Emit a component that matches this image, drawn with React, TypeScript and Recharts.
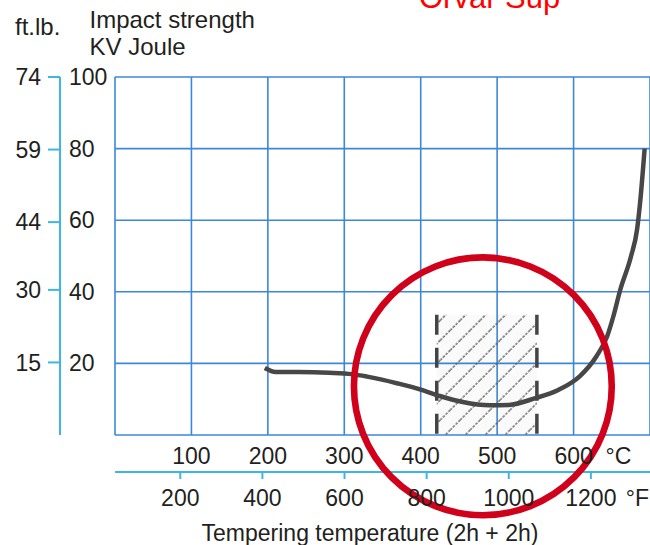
import React from 'react';
import {
  LineChart,
  Line,
  XAxis,
  YAxis,
  CartesianGrid,
  ReferenceArea,
  ReferenceLine,
  ReferenceDot,
} from 'recharts';

const FONT = '"Liberation Sans", Arial, Helvetica, sans-serif';
const TEXT = '#231f20';
const GRID = '#3d87d8';
const AXIS = '#3db5e6';

// Tempering temperature (°C) and impact strength (KV Joule)
const tempC = [196, 210, 240, 280, 310, 330, 370, 400, 425, 455, 490, 515, 550, 580, 608, 630, 644, 652, 661, 675, 683, 687, 693];
const impactJ = [18.7, 17.6, 17.6, 17.4, 17.0, 16.3, 14.4, 12.7, 10.9, 9.2, 8.3, 8.4, 10.3, 12.6, 16.4, 22.0, 27.6, 33.1, 40.5, 49.8, 57.3, 64.8, 80.0];

// Axis ticks
const ticksC = [0, 100, 200, 300, 400, 500, 600];
const ticksF = [200, 400, 600, 800, 1000, 1200];
const ticksJ = [0, 20, 40, 60, 80, 100];
const ticksFtLb = [15, 30, 44, 59, 74];

// Domains
const domainC: [number, number] = [0, 700];
const domainF: [number, number] = [41, 1344];
const domainJ: [number, number] = [0, 100];
const domainFtLb: [number, number] = [0, 74];

// Recommended tempering range (hatched) and highlight circle
const hatchC = [421, 552];
const hatchTopJ = 33.6;
const circleC = 481.3;
const circleJ = 13.6;

const data = tempC.map((c, i) => ({ c, j: impactJ[i] }));

const CTick = (props: any) => {
  const { x, y, payload } = props;
  const v = payload.value;
  if (v === 0) return <g />;
  return (
    <g>
      <text x={x} y={y + 28.5} textAnchor="middle" fontSize={23} fill={TEXT} fontFamily={FONT}>
        {v}
      </text>
      {v === 600 && (
        <text x={x + 32} y={y + 28.5} textAnchor="start" fontSize={23} fill={TEXT} fontFamily={FONT}>
          °C
        </text>
      )}
    </g>
  );
};

const FTick = (props: any) => {
  const { x, y, payload } = props;
  const v = payload.value;
  return (
    <g>
      <text x={x} y={y + 26.7} textAnchor="middle" fontSize={23} fill={TEXT} fontFamily={FONT}>
        {v}
      </text>
      {v === 1200 && (
        <text x={x + 35} y={y + 26.7} textAnchor="start" fontSize={23} fill={TEXT} fontFamily={FONT}>
          °F
        </text>
      )}
    </g>
  );
};

const JTick = (props: any) => {
  const { x, y, payload } = props;
  const v = payload.value;
  if (v === 0) return <g />;
  return (
    <text x={x - 46} y={y} dy="0.35em" textAnchor="start" fontSize={23} fill={TEXT} fontFamily={FONT}>
      {v}
    </text>
  );
};

export default function App() {
  return (
    <div style={{ position: 'absolute', left: 0, top: 0, width: 650, height: 545, background: '#fff' }}>
      <svg width={0} height={0} style={{ position: 'absolute' }}>
        <defs>
          <pattern id="hatch" patternUnits="userSpaceOnUse" width={14.1} height={14.1} patternTransform="rotate(45)">
            <rect x={0} y={0} width={14.1} height={14.1} fill="#000" fillOpacity={0.02} />
            <line x1={2} y1={0} x2={2} y2={14.1} stroke="#555" strokeWidth={1.3} strokeDasharray="2.4 1.4" />
          </pattern>
        </defs>
      </svg>
      <LineChart
        width={650}
        height={545}
        data={data}
        margin={{ top: 77, right: 0, bottom: 33, left: 0 }}
      >
        <CartesianGrid
          xAxisId="c"
          yAxisId="a"
          stroke={GRID}
          strokeWidth={1.6}
          strokeDasharray=""
          fill="none"
        />
        <XAxis
          xAxisId="c"
          dataKey="c"
          type="number"
          domain={domainC}
          ticks={ticksC}
          interval={0}
          height={37}
          axisLine={false}
          tickLine={false}
          tickSize={0}
          tickMargin={0}
          tick={<CTick />}
          allowDataOverflow
        />
        <XAxis
          xAxisId="f"
          dataKey="c"
          type="number"
          domain={domainF}
          ticks={ticksF}
          interval={0}
          height={40}
          axisLine={{ stroke: AXIS, strokeWidth: 2 }}
          tickLine={{ stroke: AXIS, strokeWidth: 2 }}
          tickSize={7}
          tickMargin={0}
          tick={<FTick />}
          allowDataOverflow
        />
        <YAxis
          yAxisId="a"
          type="number"
          domain={domainJ}
          ticks={ticksJ}
          interval={0}
          width={55}
          axisLine={false}
          tickLine={false}
          tickSize={0}
          tickMargin={0}
          tick={<JTick />}
          allowDataOverflow
        />
        <YAxis
          yAxisId="b"
          type="number"
          domain={domainFtLb}
          ticks={ticksFtLb}
          interval={0}
          width={60}
          axisLine={{ stroke: AXIS, strokeWidth: 2 }}
          tickLine={{ stroke: AXIS, strokeWidth: 2 }}
          tickSize={12}
          tickMargin={7}
          tick={{ fontSize: 23, fill: TEXT, fontFamily: FONT }}
          allowDataOverflow
        />
        <ReferenceArea
          xAxisId="c"
          yAxisId="a"
          x1={hatchC[0]}
          x2={hatchC[1]}
          y1={0}
          y2={hatchTopJ}
          fill="url(#hatch)"
          fillOpacity={1}
          stroke="none"
        />
        <ReferenceLine
          xAxisId="c"
          yAxisId="a"
          segment={[{ x: hatchC[0], y: hatchTopJ }, { x: hatchC[0], y: 0 }]}
          stroke="#444"
          strokeWidth={3.5}
          strokeDasharray="20 13"
        />
        <ReferenceLine
          xAxisId="c"
          yAxisId="a"
          segment={[{ x: hatchC[1], y: hatchTopJ }, { x: hatchC[1], y: 0 }]}
          stroke="#444"
          strokeWidth={3.5}
          strokeDasharray="20 13"
        />
        <Line
          xAxisId="c"
          yAxisId="a"
          type="monotone"
          dataKey="j"
          stroke="#474747"
          strokeWidth={4.5}
          dot={false}
          isAnimationActive={false}
        />
        <ReferenceDot
          xAxisId="c"
          yAxisId="a"
          x={circleC}
          y={circleJ}
          r={128.9}
          fill="none"
          stroke="#d0021b"
          strokeWidth={6.6}
          ifOverflow="visible"
        />
      </LineChart>
      <svg
        width={650}
        height={545}
        style={{ position: 'absolute', left: 0, top: 0, pointerEvents: 'none' }}
      >
        <text x={15} y={35} fontSize={24} fill={TEXT} fontFamily={FONT}>ft.lb.</text>
        <text x={89.5} y={28.3} fontSize={24} fill={TEXT} fontFamily={FONT}>Impact strength</text>
        <text x={89.5} y={55} fontSize={24} fill={TEXT} fontFamily={FONT}>KV Joule</text>
        <text x={419} y={8} fontSize={31} fill="#ff0000" fontFamily={FONT}>Orvar Sup</text>
        <text x={370} y={541} fontSize={23} fill={TEXT} fontFamily={FONT} textAnchor="middle">
          Tempering temperature (2h + 2h)
        </text>
      </svg>
    </div>
  );
}
